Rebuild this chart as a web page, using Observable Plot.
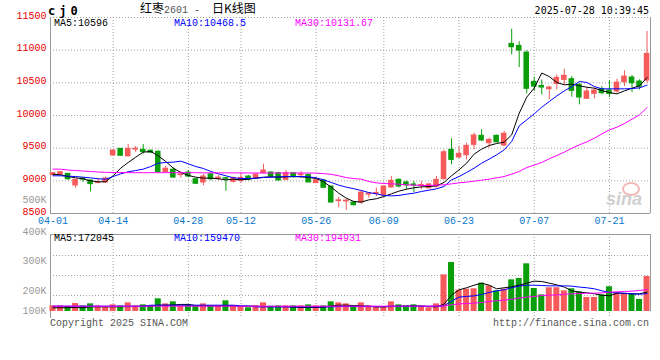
<!DOCTYPE html>
<html><head><meta charset="utf-8">
<script src="https://cdn.jsdelivr.net/npm/d3@7"></script>
<script src="https://cdn.jsdelivr.net/npm/@observablehq/plot@0.6"></script>
<style>
html,body{margin:0;padding:0;background:#fff;}
#wrap{position:relative;width:660px;height:360px;overflow:hidden;background:#fff;font-family:"Liberation Mono","DejaVu Sans Mono",monospace;font-size:10px;}
.t{position:absolute;white-space:pre;line-height:1;z-index:5;}
#price,#vol{position:absolute;left:0;}
#price{top:0;z-index:1}
#vol{top:190px;z-index:2}
</style></head><body><div id="wrap">
<div id="price"></div><div id="vol"></div>
<div class="t" style="left:48px;top:5px;font-family:'DejaVu Sans Mono';font-weight:bold;font-size:12px;letter-spacing:4px;">cj0</div>
<div class="t" style="left:140px;top:2px;font-family:'Noto Sans CJK SC';font-size:12px;">红枣<span style="font-family:'Liberation Mono';font-size:10px;color:#555">2601 -  </span>日K线图</div>
<div class="t" style="right:11px;top:6px;font-family:'DejaVu Sans Mono';font-size:10px;">2025-07-28 10:39:45</div>
<div class="t" style="left:54px;top:19px;color:#000">MA5:10596</div>
<div class="t" style="left:174px;top:19px;color:#0000ff">MA10:10468.5</div>
<div class="t" style="left:295px;top:19px;color:#ff00ff">MA30:10131.67</div>
<div class="t" style="left:54px;top:234px;color:#000">MA5:172045</div>
<div class="t" style="left:174px;top:234px;color:#0000ff">MA10:159470</div>
<div class="t" style="left:295px;top:234px;color:#ff00ff">MA30:194931</div>
<div class="t" style="left:50px;top:319px;color:#555">Copyright 2025 SINA.COM</div>
<div class="t" style="right:11px;top:319px;color:#555">http://finance.sina.com.cn</div>
<div class="t" style="left:622px;top:182px;width:14px;height:10px;border:2px solid #f2b8b8;border-radius:50%;z-index:3"></div>
<div class="t" style="left:606px;top:190px;font-family:'Liberation Sans';font-style:italic;font-weight:bold;font-size:18px;color:#cfcfcf;z-index:3">sina</div>
</div>
<script>
// ---- data ----
const days = ["04-01","04-02","04-03","04-07","04-08","04-09","04-10","04-11","04-14","04-15","04-16","04-17","04-18","04-21","04-22","04-23","04-24","04-25","04-28","04-29","04-30",
"05-06","05-07","05-08","05-09","05-12","05-13","05-14","05-15","05-16","05-19","05-20","05-21","05-22","05-23","05-26","05-27","05-28","05-29","05-30",
"06-03","06-04","06-05","06-06","06-09","06-10","06-11","06-12","06-13","06-16","06-17","06-18","06-19","06-20","06-23","06-24","06-25","06-26","06-27","06-30",
"07-01","07-02","07-03","07-04","07-07","07-08","07-09","07-10","07-11","07-14","07-15","07-16","07-17","07-18","07-21","07-22","07-23","07-24","07-25","07-28"];

const open = [9087,9092,9107,8929,9035,9005,8965,8975,9388,9490, 9375,9478,9475,9460,9445,9135,9170,9088,9127,9025, 8975,9100,9032,9042,8985,9000,9066,9035,9117,9128, 9117,9015,9117,9085,9092,8965,9005,8913,8690,8685, 8668,8668,8790,8800,8775,8898,9015,8975,8945,8925, 8885,8913,9025,9474,9357,9393,9550,9689,9576,9689, 9540,11096,11065,10963,10515,10453,10402,10484,10545,10556, 10469,10255,10331,10402,10382,10367,10510,10581,10520,10535];
const high = [9125,9140,9112,9020,9045,9010,9040,9060,9470,9495, 9556,9525,9556,9475,9455,9220,9195,9140,9160,9030, 9100,9110,9080,9048,9055,9117,9080,9100,9255,9135, 9130,9158,9127,9140,9100,9020,9015,8920,8750,8720, 8680,8850,8820,8890,8920,9066,9030,8995,8990,8990, 8960,9066,9470,9643,9525,9576,9730,9780,9653,9700, 9755,11320,11127,10989,10586,10545,10448,10622,10708,10596, 10494,10428,10418,10443,10530,10555,10683,10612,10545,11285];
const low = [9075,9085,9005,8888,8975,8830,8960,8965,9383,9378, 9368,9435,9410,9420,9115,9130,9040,9040,9045,8945, 8925,9000,9005,8840,8965,8965,9000,9030,9105,9060, 9000,9005,9040,9040,8970,8960,8885,8660,8587,8546, 8615,8640,8735,8760,8765,8890,8890,8862,8820,8862, 8880,8890,9015,9245,9340,9320,9474,9600,9500,9580, 9525,10928,10734,10331,10367,10316,10239,10392,10469,10280, 10163,10250,10255,10316,10275,10341,10443,10352,10392,10494];
const close = [9117,9133,9025,9015,9020,8950,8978,9035,9464,9383, 9490,9490,9440,9430,9135,9185,9050,9098,9066,8955, 9066,9025,9050,9032,9045,9045,9015,9097,9158,9066, 9005,9117,9056,9100,8975,9010,8893,8668,8702,8697, 8627,8820,8805,8815,8913,9000,8913,8930,8930,8937, 8945,9015,9438,9320,9413,9535,9694,9617,9627,9590, 9720,11045,10994,10408,10443,10428,10428,10576,10607,10377, 10275,10367,10382,10341,10331,10504,10596,10494,10443,10943];

const ma5 = [9102,9092,9066,9046,9031,9000,8985,8985,9077,9194, 9280,9362,9439,9449,9383,9296,9194,9128,9082,9056, 9041,9041,9031,9015,9025,9015,9025,9041,9056,9061, 9056,9061,9066,9061,9051,9036,8985,8903,8811,8735, 8684,8674,8709,8725,8760,8801,8842,8872,8893,8908, 8913,8923,8975,9077,9168,9270,9408,9485,9541,9571, 9592,9704,10035,10280,10420,10650,10596,10505,10469,10479, 10454,10433,10418,10382,10351,10331,10377,10418,10454,10580];
const ma10 = [9077,9077,9071,9066,9056,9046,9031,9025,9066,9107, 9138,9158,9179,9219,9270,9281,9286,9301,9260,9219, 9189,9143,9107,9077,9046,9036,9036,9041,9051,9056, 9061,9066,9066,9066,9061,9046,9015,8975,8934,8903, 8880,8852,8821,8801,8776,8770,8776,8796,8811,8837, 8857,8878,8913,9015,9066,9128,9194,9270,9332,9398, 9474,9602,9842,9933,10025,10127,10214,10300,10377,10443, 10520,10505,10443,10408,10408,10408,10408,10413,10423,10465];
const ma30 = [9180,9178,9165,9158,9150,9143,9135,9130,9128,9128, 9125,9125,9125,9125,9125,9125,9125,9125,9125,9125, 9122,9122,9122,9122,9122,9122,9120,9120,9120,9120, 9120,9120,9120,9120,9120,9118,9110,9100,9077,9050, 9035,9025,8990,8969,8959,8954,8949,8939,8934,8929, 8929,8934,8939,8954,8969,8980,8995,9010,9025,9046, 9066,9102,9143,9204,9240,9281,9337,9388,9439,9500, 9551,9597,9653,9719,9780,9821,9877,9944,10010,10120];

const volume = [50000,50000,44500,71000,50000,68000,50000,41500,59000,50000, 77000,50000,59000,50000,113000,68000,86000,50000,62000,50000, 68000,50000,50000,95000,50000,41500,33000,50000,77000,47000, 50000,50000,50000,50000,59000,50000,50000,86000,77000,68000, 50000,77000,50000,41500,41500,86000,59000,50000,59000,50000, 33000,68000,326000,436000,190000,199000,202000,252000,228000,184000, 199000,282000,294000,424000,205000,148000,211000,211000,184000,202000, 175000,125000,125000,148000,220000,166000,151000,154000,107000,311000];
const vma5 = [33000,33000,35000,35000,33000,42000,42000,42000,42000,42000, 44000,44000,47000,47000,56000,56000,58000,63000,63000,53000, 50000,50000,50000,50000,50000,47000,47000,47000,44000,44000, 44000,44000,38000,36000,36000,36000,38000,50000,56000,56000, 53000,50000,47000,41000,41000,44000,47000,47000,50000,47000, 44000,41000,65000,145000,193000,211000,234000,252000,234000,202000, 211000,220000,234000,252000,270000,267000,252000,237000,217000,184000, 172000,166000,157000,145000,139000,163000,160000,157000,157000,172000];
const vma10 = [47000,47000,47000,47000,47000,47000,47000,47000,47000,47000, 47000,47000,47000,56000,56000,56000,56000,56000,56000,56000, 56000,56000,56000,56000,56000,50000,50000,41000,41000,41000, 41000,41000,41000,41000,41000,41000,41000,41000,44000,44000, 44000,44000,44000,44000,44000,47000,47000,47000,47000,47000, 47000,47000,50000,92000,128000,134000,139000,151000,169000,184000, 193000,211000,226000,234000,234000,231000,228000,228000,228000,226000, 217000,211000,202000,184000,169000,166000,163000,157000,154000,159000];
const vma30 = [48000,48000,48000,47500,47500,47500,47000,47000,47000,47000, 47000,47000,47000,47000,47500,47500,47500,47500,47500,47500, 47500,47500,47500,47500,47500,47000,47000,47000,47000,47000, 47000,47000,47000,47000,47000,47000,47000,47500,47500,47500, 47500,47500,47500,47500,47500,47500,47500,47500,47500,47500, 47500,48000,50000,59000,68000,71000,74000,80000,89000,95000, 101000,110000,119000,128000,134000,142000,145000,148000,154000,157000, 160000,163000,163000,166000,172000,175000,178000,181000,187000,195000];

const xTickLabels = ["04-01","04-14","04-28","05-12","05-26","06-09","06-23","07-07","07-21"];
const priceTicks = [8500,9000,9500,10000,10500,11000,11500];
const volGrid = [142000,320000,498000];
const volTickLabels = ["500K","400K","300K","200K","100K"];
const volTickAt = [996800,712000,454000,187000,8900];

// ---- build ----
const RED = "#f65b5b", GREEN = "#0a9f0a";
const GRID = {stroke: "#a0a0a0", strokeOpacity: 1, strokeDasharray: "1,2"};
const FRAME = {stroke: "#999", strokeOpacity: 1};
const bars = days.map((d, i) => ({
  i, day: d, open: open[i], high: high[i], low: low[i], close: close[i],
  ma5: ma5[i], ma10: ma10[i], ma30: ma30[i],
  vol: volume[i], vma5: vma5[i], vma10: vma10[i], vma30: vma30[i],
  col: close[i] >= open[i] ? RED : GREEN
}));
const tickIdx = xTickLabels.map(l => days.indexOf(l));
const xDomain = [-0.33, days.length - 0.54];
const priceDomain = [priceTicks[0], priceTicks[priceTicks.length - 1]];
const volDomain = [-62300, 685000];
const HALF = 0.37;
const font = {fontFamily: '"Liberation Mono", monospace', fontSize: "10px", background: "transparent", overflow: "visible"};

const price = Plot.plot({
  width: 660, height: 232,
  marginLeft: 50, marginRight: 10, marginTop: 17, marginBottom: 19,
  style: font,
  x: {type: "linear", domain: xDomain, label: null},
  y: {domain: priceDomain, label: null},
  marks: [
    Plot.gridY(priceTicks.slice(1), GRID),
    Plot.gridX(tickIdx.slice(1), GRID),
    Plot.ruleY([priceDomain[0]], FRAME),
    Plot.ruleX(xDomain, FRAME),
    Plot.ruleX(bars, {x: "i", y1: "low", y2: "high", stroke: "col"}),
    Plot.rect(bars, {x1: d => d.i - HALF, x2: d => d.i + HALF, y1: "open", y2: "close", fill: "col", insetTop: -0.5, insetBottom: -0.5}),
    Plot.line(bars, {x: "i", y: "ma5", stroke: "#000", strokeWidth: 1}),
    Plot.line(bars, {x: "i", y: "ma10", stroke: "#0000ff", strokeWidth: 1}),
    Plot.line(bars, {x: "i", y: "ma30", stroke: "#ff00ff", strokeWidth: 1}),
    Plot.axisY(priceTicks, {label: null, tickSize: 0, tickPadding: 4, tickFormat: d => String(d), fill: "#e60000", dy: -2, fontSize: 10}),
    Plot.axisX(tickIdx, {label: null, tickSize: 0, tickPadding: 3, tickFormat: d => days[d], fill: "#0877cc", fontSize: 10})
  ]
});
document.getElementById("price").appendChild(price);

const vol = Plot.plot({
  width: 660, height: 140,
  marginLeft: 50, marginRight: 10, marginTop: 44, marginBottom: 12,
  style: font,
  x: {type: "linear", domain: xDomain, axis: null},
  y: {domain: volDomain, axis: null},
  marks: [
    Plot.gridY(volGrid, GRID),
    Plot.gridX(tickIdx.slice(1), GRID),
    Plot.ruleY([volDomain[1]], FRAME),
    Plot.ruleX([xDomain[0]], FRAME),
    Plot.ruleX([xDomain[1]], {...FRAME, y1: 0, y2: volDomain[1]}),
    Plot.rect(bars, {x1: d => d.i - 0.4, x2: d => d.i + 0.4, y1: 0, y2: "vol", fill: "col"}),
    Plot.line(bars, {x: "i", y: "vma5", stroke: "#000", strokeWidth: 1}),
    Plot.line(bars, {x: "i", y: "vma10", stroke: "#0000ff", strokeWidth: 1}),
    Plot.line(bars, {x: "i", y: "vma30", stroke: "#ff00ff", strokeWidth: 1}),
    Plot.text(volTickAt, {y: d => d, text: (d, i) => volTickLabels[i], frameAnchor: "left", textAnchor: "end", dx: -4, fill: "#999", fontSize: 10})
  ]
});
document.getElementById("vol").appendChild(vol);
</script>
</body></html>
